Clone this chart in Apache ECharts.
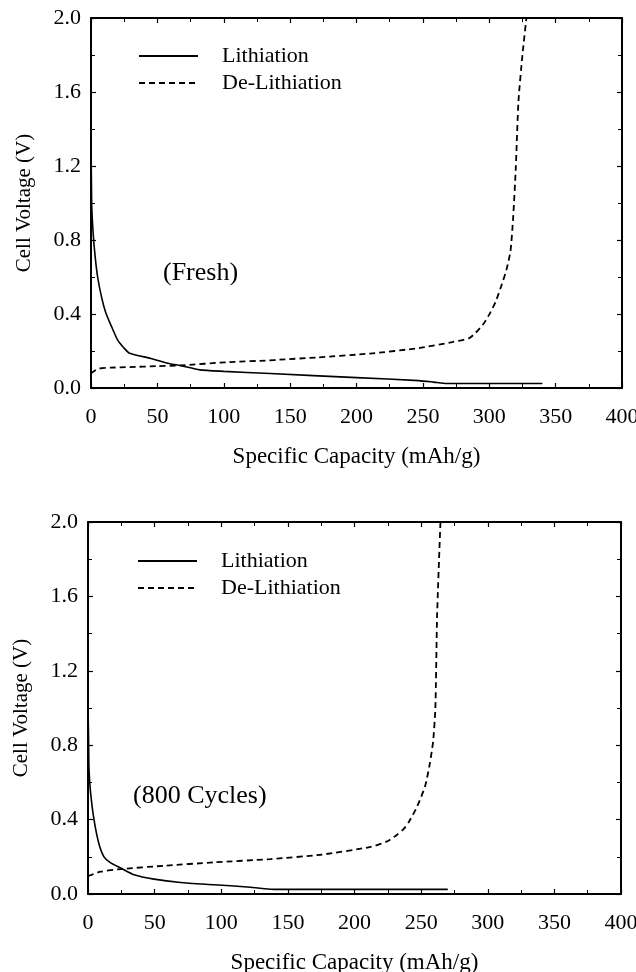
<!DOCTYPE html>
<html>
<head>
<meta charset="utf-8">
<script src="https://cdn.jsdelivr.net/npm/echarts@6/dist/echarts.min.js"></script>
<style>
  html, body { margin: 0; padding: 0; background: #fff; }
  #chart { width: 636px; height: 972px; }
</style>
</head>
<body>
<div id="chart"></div>
<script>
// Fresh cell
const freshLithCap = [0, 0.5, 1.5, 3, 5, 8, 11, 15, 20, 25, 29, 45, 60, 67, 82, 100, 135, 200, 247, 258, 268, 340]
const freshLithV = [1.37, 1.0, 0.85, 0.72, 0.6, 0.49, 0.41, 0.34, 0.26, 0.215, 0.188, 0.16, 0.13, 0.122, 0.098, 0.09, 0.078, 0.056, 0.04, 0.032, 0.024, 0.024]
const freshDelithCap = [0, 3, 6, 15, 29, 50, 67, 104, 134, 142, 170, 210, 247, 272, 285, 290, 296, 301, 305, 309, 313, 316, 318, 320, 322, 325, 328]
const freshDelithV = [0.08, 0.095, 0.105, 0.11, 0.113, 0.118, 0.122, 0.14, 0.149, 0.153, 0.165, 0.186, 0.216, 0.248, 0.27, 0.3, 0.35, 0.41, 0.47, 0.55, 0.64, 0.74, 0.92, 1.19, 1.55, 1.8, 2.0]

// after 800 cycles
const agedLithCap = [0, 0.4, 0.75, 2, 4.5, 8.2, 12, 17, 24.5, 34.5, 49.5, 69.5, 94.5, 119.5, 139.5, 270]
const agedLithV = [1.0, 0.85, 0.67, 0.54, 0.4, 0.27, 0.2, 0.167, 0.14, 0.104, 0.08, 0.062, 0.05, 0.038, 0.025, 0.025]
const agedDelithCap = [0, 0.75, 9.5, 24.5, 57, 94.5, 137, 174.5, 212, 224.5, 232, 237, 241, 247, 253, 256.5, 259, 260.7, 262, 264.5]
const agedDelithV = [0.095, 0.098, 0.12, 0.134, 0.152, 0.17, 0.188, 0.211, 0.253, 0.283, 0.319, 0.35, 0.39, 0.47, 0.58, 0.7, 0.82, 1.0, 1.5, 2.0]

const seriesNames = ['Lithiation', 'De-Lithiation']
const panelLabels = ['(Fresh)', '(800 Cycles)']

const FONT = "'Liberation Serif', 'Times New Roman', serif"
const zip = (xs, ys) => xs.map((x, i) => [x, ys[i]])

const chart = echarts.init(document.getElementById('chart'))

// fixed plot boxes, labels are allowed to run past the edge
const grids = [
    { left: 91, top: 18, width: 531, height: 370, containLabel: false, outerBoundsMode: 'none' },
    { left: 88, top: 522, width: 533, height: 372, containLabel: false, outerBoundsMode: 'none' },
]

const axisLine = { show: true, onZero: false, lineStyle: { color: '#000', width: 2 } }
const tick = { show: true, inside: true, length: 5, lineStyle: { color: '#000', width: 1.2 } }
const minorTick = { show: true, splitNumber: 2, length: 4, lineStyle: { color: '#000', width: 1 } }

const xAxes = []
const yAxes = []
grids.forEach((g, i) => {
    xAxes.push({
        type: 'value', gridIndex: i, position: 'bottom', min: 0, max: 400, interval: 50,
        axisLine, axisTick: tick, minorTick, splitLine: { show: false },
        axisLabel: { margin: 18, color: '#000', fontSize: 22, fontFamily: FONT },
        name: 'Specific Capacity (mAh/g)', nameLocation: 'middle', nameGap: 57,
        nameTextStyle: { color: '#000', fontSize: 23, fontFamily: FONT },
    })
    xAxes.push({
        type: 'value', gridIndex: i, position: 'top', min: 0, max: 400, interval: 50,
        axisLine, axisTick: tick, minorTick, splitLine: { show: false }, axisLabel: { show: false },
    })
    yAxes.push({
        type: 'value', gridIndex: i, position: 'left', min: 0, max: 2, interval: 0.4,
        axisLine, axisTick: tick, minorTick, splitLine: { show: false },
        axisLabel: { margin: 10, color: '#000', fontSize: 22, fontFamily: FONT, formatter: v => v.toFixed(1) },
        name: 'Cell Voltage (V)', nameLocation: 'middle', nameGap: 56,
        nameTextStyle: { color: '#000', fontSize: 21, fontFamily: FONT },
    })
    yAxes.push({
        type: 'value', gridIndex: i, position: 'right', min: 0, max: 2, interval: 0.4,
        axisLine, axisTick: tick, minorTick, splitLine: { show: false }, axisLabel: { show: false },
    })
})

const solid = { color: '#000', width: 1.6, type: 'solid' }
const dashed = { color: '#000', width: 1.8, type: [6, 4] }

const mkSeries = (name, data, panel, lineStyle) => ({
    name, type: 'line', data, xAxisIndex: panel * 2, yAxisIndex: panel * 2,
    symbol: 'none', smooth: 0.2, lineStyle, itemStyle: { color: '#000' },
    silent: true, animation: false,
})

const series = [
    mkSeries(seriesNames[0], zip(freshLithCap, freshLithV), 0, solid),
    mkSeries(seriesNames[1], zip(freshDelithCap, freshDelithV), 0, dashed),
    mkSeries(seriesNames[0] + ' ', zip(agedLithCap, agedLithV), 1, solid),
    mkSeries(seriesNames[1] + ' ', zip(agedDelithCap, agedDelithV), 1, dashed),
]

const mkLegend = (names, top, left) => ({
    data: names, orient: 'vertical', left, top,
    itemWidth: 59, itemHeight: 14, itemGap: 5,
    itemStyle: { opacity: 0 },
    textStyle: { color: '#000', fontSize: 22, fontFamily: FONT, padding: [0, 0, 0, 19] },
    selectedMode: false,
})

chart.setOption({
    animation: false,
    backgroundColor: '#fff',
    grid: grids,
    xAxis: xAxes,
    yAxis: yAxes,
    legend: [
        mkLegend(seriesNames, 40, 133),
        mkLegend(seriesNames.map(n => n + ' '), 545, 132),
    ],
    graphic: [
        { type: 'text', left: 163, top: 260, style: { text: panelLabels[0], fill: '#000', font: `26px ${FONT}` } },
        { type: 'text', left: 133, top: 783, style: { text: panelLabels[1], fill: '#000', font: `26px ${FONT}` } },
    ],
    series,
})
</script>
</body>
</html>
